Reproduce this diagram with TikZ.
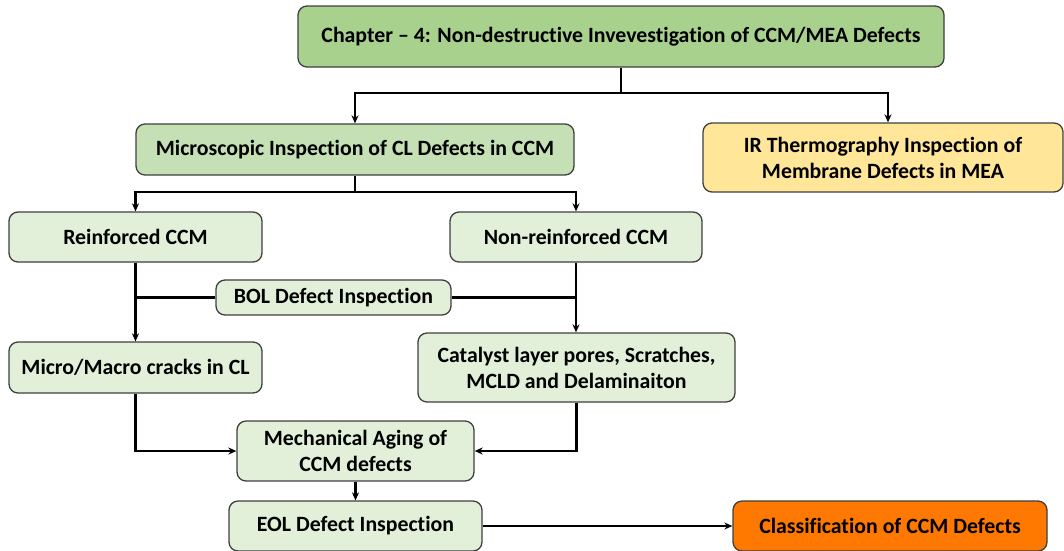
\documentclass[tikz,border=0pt]{standalone}
\usepackage{fontspec}
\setmainfont[Ligatures={NoCommon}]{Carlito}
\usetikzlibrary{arrows.meta}
\definecolor{topgreen}{HTML}{A9D18E}
\definecolor{midgreen}{HTML}{C5E0B4}
\definecolor{lightgreen}{HTML}{E2F0D9}
\definecolor{irfill}{HTML}{FFE699}
\definecolor{orangefill}{HTML}{FF7800}
\definecolor{edge}{HTML}{3F3F3F}
\begin{document}
\begin{tikzpicture}[x=1pt,y=1pt,
  box/.style={draw=edge, line width=1.3pt, rounded corners=9pt, align=center,
    font=\fontsize{21.8}{26}\selectfont\bfseries, inner sep=0pt},
  conn/.style={line width=2.2pt, black},
  arr/.style={conn, -{Stealth[length=8pt,width=7pt]}}]
\useasboundingbox (0,0) rectangle (1064,-550);
\node[box, fill=topgreen, minimum width=646, minimum height=61] (top) at (621,-36.5) {Chapter -- 4: Non-destructive Invevestigation of CCM/MEA Defects};
\node[box, fill=midgreen, minimum width=438, minimum height=51] (micro) at (355,-149.5) {Microscopic Inspection of CL Defects in CCM};
\node[box, fill=irfill, minimum width=360, minimum height=69] (ir) at (883,-157.5) {IR Thermography Inspection of\\Membrane Defects in MEA};
\node[box, fill=lightgreen, minimum width=253, minimum height=50] (rein) at (135.5,-237) {Reinforced CCM};
\node[box, fill=lightgreen, minimum width=252, minimum height=50] (nonr) at (576,-237) {Non-reinforced CCM};
\node[box, fill=lightgreen, minimum width=235, minimum height=35] (bol) at (333.5,-297.5) {BOL Defect Inspection};
\node[box, fill=lightgreen, minimum width=253, minimum height=51] (mm) at (135.5,-367.5) {Micro/Macro cracks in CL};
\node[box, fill=lightgreen, minimum width=317, minimum height=69] (cat) at (576.5,-367.5) {Catalyst layer pores, Scratches,\\MCLD and Delaminaiton};
\node[box, fill=lightgreen, minimum width=237, minimum height=60] (mech) at (355.5,-451) {Mechanical Aging of\\CCM defects};
\node[box, fill=lightgreen, minimum width=253, minimum height=50] (eol) at (355.5,-526) {EOL Defect Inspection};
\node[box, fill=orangefill, minimum width=314, minimum height=50] (cls) at (890,-526) {Classification of CCM Defects};
\coordinate (j1) at (621,-93);
\coordinate (j2) at (355,-192);
\draw[conn] (top.south) -- (j1);
\draw[arr] (j1) -| (micro.north);
\draw[arr] (j1) -| ([xshift=5pt]ir.north);
\draw[conn] (micro.south) -- (j2);
\draw[arr] (j2) -| (rein.north);
\draw[arr] (j2) -| (nonr.north);
\draw[arr] (rein.south) -- (mm.north);
\draw[arr] (nonr.south) -- (cat.north -| nonr.south);
\draw[conn] (bol.west) -- (bol.west -| rein.south);
\draw[conn] (bol.east) -- (bol.east -| nonr.south);
\draw[arr] (mm.south) |- (mech.west);
\draw[arr] (cat.south) |- (mech.east);
\draw[arr] (mech.south) -- (eol.north);
\draw[arr] (eol.east) -- (cls.west);
\end{tikzpicture}
\end{document}
